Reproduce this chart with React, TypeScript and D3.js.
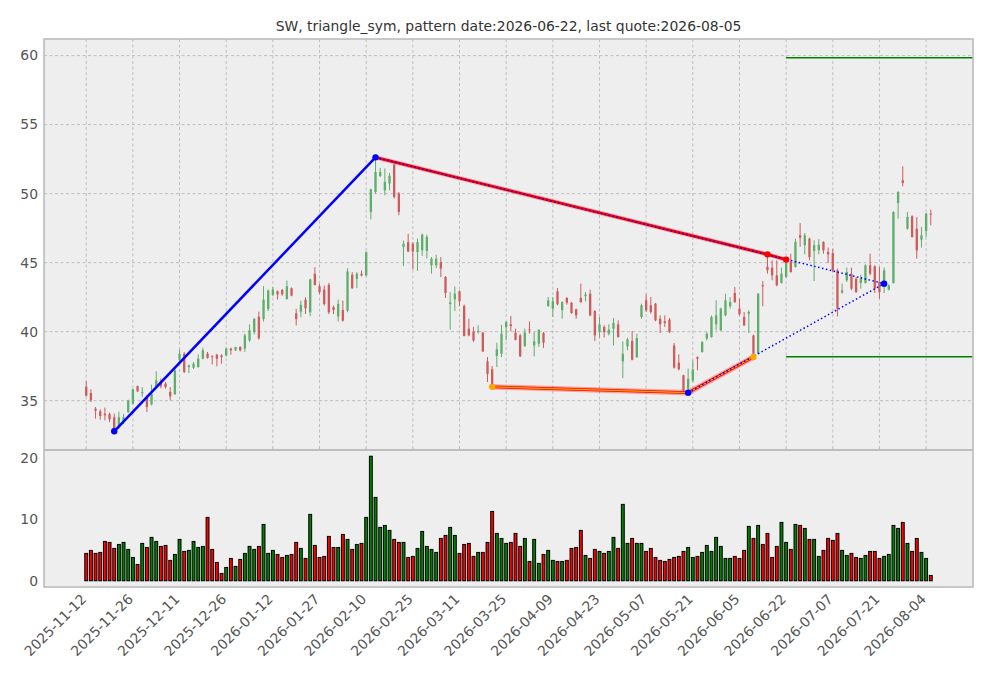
import * as d3 from "d3";

// bars are drawn at integer positions 0..181, one label every 10 bars
const tickLabels = [
  "2025-11-12", "2025-11-26", "2025-12-11", "2025-12-26", "2026-01-12",
  "2026-01-27", "2026-02-10", "2026-02-25", "2026-03-11", "2026-03-25",
  "2026-04-09", "2026-04-23", "2026-05-07", "2026-05-21", "2026-06-05",
  "2026-06-22", "2026-07-07", "2026-07-21", "2026-08-04",
];

const opens = [
  36.0, 35.56, 34.42, 34.23, 34.06, 34.03, 33.8, 33.1, 33.45, 34.18,
  34.78, 36.06, 35.56, 35.27, 34.73, 36.06, 36.35, 36.23, 35.63, 35.46,
  37.97, 38.4, 37.44, 37.39, 37.44, 38.04, 38.4, 38.21, 38.33, 38.28,
  38.28, 38.77, 38.65, 38.89, 38.77, 39.37, 39.97, 41.09, 40.92, 41.65,
  42.66, 42.93, 43.02, 42.37, 43.15, 41.33, 41.45, 42.32, 41.4, 44.19,
  43.29, 43.05, 43.39, 41.77, 41.11, 41.57, 41.52, 44.12, 43.83, 44.19,
  44.07, 48.67, 50.12, 51.28, 50.24, 50.73, 52.1, 50.0, 46.13, 46.49,
  46.37, 45.77, 45.9, 45.85, 44.8, 44.81, 45.05, 43.96, 42.0, 42.34,
  42.92, 41.86, 40.22, 40.02, 39.97, 39.93, 37.85, 37.27, 38.24, 38.4,
  40.34, 40.53, 39.93, 39.73, 38.96, 40.17, 39.01, 39.13, 39.9, 41.86,
  41.67, 42.92, 41.55, 42.44, 42.1, 41.62, 42.44, 42.58, 42.75, 41.5,
  39.97, 40.34, 39.85, 40.22, 40.53, 37.85, 38.94, 39.32, 38.16, 41.06,
  42.27, 41.91, 42.03, 40.94, 40.75, 40.87, 39.0, 37.75, 36.84, 35.87,
  36.47, 38.16, 38.53, 39.49, 39.61, 40.53, 40.1, 41.18, 41.84, 42.8,
  41.67, 41.06, 41.3, 39.73, 38.4, 43.37, 44.7, 44.64, 44.08, 43.53,
  43.96, 45.05, 44.69, 46.98, 46.26, 46.74, 45.85, 45.9, 46.5, 45.77,
  45.7, 44.44, 42.83, 43.72, 44.2, 43.84, 43.53, 43.53, 44.81, 44.73,
  43.6, 43.24, 43.04, 43.53, 49.32, 50.97, 47.46, 48.36, 47.46, 46.67,
  47.29, 48.55,
];
const highs = [
  36.4, 35.82, 34.54, 34.37, 34.5, 34.13, 34.06, 34.2, 34.05, 35.07,
  35.87, 36.1, 35.99, 35.39, 36.16, 37.13, 36.6, 36.35, 35.99, 37.25,
  38.7, 38.53, 37.63, 37.8, 38.36, 38.84, 38.53, 38.29, 38.4, 38.36,
  38.84, 38.84, 38.9, 38.94, 39.85, 40.53, 41.0, 41.45, 43.3, 43.05,
  43.22, 42.98, 43.1, 43.7, 43.2, 41.65, 42.25, 42.5, 43.83, 44.67,
  43.46, 43.34, 43.53, 41.89, 42.32, 42.25, 44.6, 44.31, 44.31, 44.43,
  45.81, 50.36, 52.63, 51.86, 51.82, 51.5, 52.18, 50.12, 46.6, 47.09,
  46.49, 46.74, 47.1, 47.03, 45.41, 45.58, 45.41, 44.03, 42.87, 43.28,
  43.0, 41.96, 40.94, 40.34, 40.46, 39.98, 38.16, 37.51, 39.2, 40.5,
  40.75, 41.14, 40.22, 39.85, 40.22, 40.75, 39.98, 40.17, 39.98, 42.51,
  42.51, 43.16, 42.2, 42.51, 42.15, 41.67, 43.48, 42.87, 43.04, 41.55,
  41.06, 40.46, 40.53, 40.99, 40.82, 39.3, 39.56, 40.05, 39.85, 42.03,
  42.71, 42.51, 42.08, 41.18, 41.18, 40.99, 39.18, 38.36, 36.88, 37.32,
  37.92, 38.21, 39.32, 39.97, 41.18, 42.27, 41.74, 42.75, 42.51, 43.24,
  42.39, 41.43, 41.55, 39.78, 42.8, 43.67, 45.6, 45.17, 45.17, 44.64,
  45.22, 45.65, 46.74, 47.87, 47.15, 46.81, 46.62, 46.7, 46.55, 46.09,
  46.0, 44.57, 43.48, 44.64, 44.64, 43.96, 44.13, 44.88, 45.65, 44.81,
  44.69, 44.64, 43.43, 48.72, 50.17, 51.98, 48.67, 48.43, 48.31, 47.58,
  48.6, 48.84,
];
const lows = [
  35.3, 34.9, 33.7, 33.62, 33.57, 33.45, 32.78, 32.95, 33.3, 34.1,
  34.73, 35.63, 35.27, 34.18, 34.66, 35.99, 35.9, 35.87, 35.02, 35.43,
  37.8, 37.0, 37.0, 37.3, 37.39, 38.0, 38.04, 37.63, 37.49, 37.68,
  38.2, 38.33, 38.6, 38.57, 38.53, 39.25, 39.8, 39.42, 40.73, 41.5,
  42.57, 42.32, 42.6, 42.32, 42.56, 40.44, 41.04, 41.28, 41.11, 43.34,
  42.74, 41.89, 41.28, 41.28, 40.73, 40.73, 41.4, 43.1, 43.15, 44.0,
  44.02, 48.14, 50.0, 51.2, 49.88, 50.24, 49.64, 48.43, 44.75, 45.76,
  44.5, 44.4, 45.48, 45.3, 44.2, 44.6, 43.96, 42.44, 40.14, 41.5,
  41.84, 39.66, 39.66, 39.25, 39.85, 38.53, 36.35, 36.0, 37.44, 38.16,
  39.37, 40.02, 39.37, 38.16, 38.89, 39.85, 38.21, 38.89, 38.82, 41.79,
  41.06, 41.91, 40.94, 41.96, 41.3, 40.94, 42.08, 42.2, 41.11, 39.32,
  39.57, 39.57, 39.73, 39.0, 39.57, 36.64, 38.65, 37.92, 38.09, 40.94,
  41.43, 41.3, 40.75, 39.9, 40.34, 39.9, 37.32, 37.2, 35.63, 35.58,
  36.35, 37.2, 38.48, 39.37, 39.56, 40.1, 40.05, 41.11, 41.67, 42.08,
  41.18, 40.41, 39.9, 38.16, 38.36, 41.84, 44.2, 43.72, 43.29, 43.48,
  43.91, 44.27, 44.64, 46.14, 45.6, 45.17, 43.67, 45.6, 45.65, 44.98,
  44.32, 41.11, 42.75, 43.6, 43.0, 42.8, 43.12, 43.48, 44.08, 42.8,
  42.39, 42.8, 42.99, 43.48, 48.19, 50.53, 47.39, 46.81, 45.29, 46.09,
  46.86, 47.7,
];
const closes = [
  35.36, 35.02, 34.28, 33.89, 33.94, 33.65, 32.97, 33.8, 33.8, 35.02,
  35.82, 35.68, 35.63, 34.54, 35.51, 36.47, 36.04, 35.99, 35.31, 37.2,
  38.4, 37.08, 37.54, 37.68, 38.04, 38.65, 38.1, 38.16, 38.04, 38.16,
  38.77, 38.65, 38.89, 38.65, 39.73, 40.1, 40.92, 39.52, 42.32, 42.98,
  43.05, 42.69, 42.71, 43.29, 42.61, 40.92, 41.94, 41.7, 43.78, 43.39,
  42.86, 42.0, 41.4, 41.57, 42.0, 40.8, 44.36, 43.15, 44.19, 44.07,
  45.76, 50.31, 51.57, 51.57, 50.85, 51.3, 49.76, 48.67, 46.37, 45.81,
  45.81, 46.5, 47.03, 46.86, 45.29, 45.29, 44.57, 42.8, 42.12, 42.75,
  42.2, 39.69, 39.73, 39.37, 40.05, 38.57, 36.93, 36.2, 38.72, 39.85,
  40.7, 40.41, 39.4, 38.21, 39.93, 40.1, 39.3, 40.14, 39.2, 42.27,
  42.2, 41.98, 42.15, 42.1, 41.35, 41.18, 42.15, 42.7, 41.18, 39.73,
  40.53, 39.97, 40.14, 40.63, 39.61, 38.4, 39.44, 37.97, 39.54, 41.91,
  41.55, 41.43, 40.82, 40.53, 40.63, 39.97, 37.39, 37.27, 35.75, 36.59,
  37.25, 38.04, 39.25, 39.85, 41.06, 41.18, 41.67, 42.27, 42.15, 42.15,
  41.26, 40.46, 41.43, 38.4, 42.75, 43.29, 44.45, 44.08, 43.36, 44.2,
  45.17, 44.32, 46.5, 46.8, 46.98, 45.41, 46.26, 46.3, 45.9, 45.6,
  44.44, 41.67, 43.0, 44.32, 43.12, 42.87, 43.84, 44.81, 44.2, 43.12,
  42.87, 44.44, 43.36, 48.67, 50.12, 50.77, 48.31, 46.86, 45.89, 46.98,
  48.55, 48.48,
];
const volumes = [
  4.46, 4.95, 4.46, 4.62, 6.41, 6.25, 5.27, 5.92, 6.25, 5.11,
  3.8, 2.66, 6.09, 5.43, 7.07, 6.41, 5.6, 5.76, 3.32, 4.29,
  6.74, 4.78, 4.95, 6.41, 5.43, 5.6, 10.33, 5.11, 2.99, 1.2,
  2.17, 3.64, 2.34, 3.48, 4.46, 5.6, 5.11, 5.6, 9.18, 4.46,
  4.95, 4.29, 3.8, 4.13, 4.29, 6.25, 5.27, 3.64, 10.82, 5.76,
  3.8, 3.97, 7.23, 5.43, 5.43, 7.55, 6.74, 5.11, 5.92, 6.09,
  10.33, 20.3, 13.59, 8.7, 9.02, 8.21, 6.74, 6.25, 6.25, 3.8,
  3.97, 5.27, 8.04, 5.6, 5.11, 4.62, 6.9, 7.39, 8.7, 7.39,
  4.46, 5.92, 6.09, 3.97, 4.62, 4.62, 6.25, 11.3, 7.72, 6.9,
  6.09, 6.25, 7.72, 5.6, 6.9, 3.15, 6.74, 2.83, 4.29, 4.95,
  3.32, 3.15, 3.15, 3.32, 5.27, 5.43, 8.21, 4.13, 3.64, 5.11,
  4.78, 4.46, 4.78, 7.07, 5.27, 12.45, 6.09, 6.9, 6.09, 6.09,
  4.78, 5.27, 3.8, 3.32, 3.15, 3.48, 3.8, 3.97, 4.78, 5.43,
  3.8, 3.97, 4.62, 5.76, 4.78, 7.07, 5.6, 3.64, 3.64, 3.97,
  3.64, 4.95, 8.86, 6.9, 9.02, 5.92, 7.72, 3.8, 5.6, 9.51,
  6.25, 5.11, 9.18, 9.02, 8.53, 6.74, 6.74, 3.97, 4.95, 6.9,
  6.58, 7.72, 4.95, 4.13, 4.46, 3.8, 3.64, 4.13, 4.78, 4.78,
  3.64, 3.97, 4.29, 9.02, 8.53, 9.51, 6.09, 4.78, 6.9, 4.62,
  3.64, 0.87,
];

// pattern overlay
const zigzagIdx = [6, 62];
const zigzagVal = [32.78, 52.63];
const upperIdx = [62, 146, 150];
const upperVal = [52.63, 45.6, 45.22];
const lowerIdx = [87, 129, 143];
const lowerVal = [36.0, 35.58, 38.16];
const apexIdx = 171;
const apexVal = 43.48;
const targetLevels = [59.85, 38.19];
const patternIdx = 150;

const W = 993;
const H = 678;
const left = 44;
const right = 973;
const top = 39;
const mid = 450;
const bottom = 587;
const font = "DejaVu Sans, sans-serif";
const upColor = "#5fae6b";
const downColor = "#cf5c5c";

export default function App() {
  const n = closes.length;
  const x = d3.scaleLinear().domain([-(n - 1) * 0.05, (n - 1) * 1.05]).range([left, right]);
  const lo = Math.min(d3.min(lows)!, ...targetLevels);
  const hi = Math.max(d3.max(highs)!, ...targetLevels);
  const pad = (hi - lo) * 0.05;
  const y = d3.scaleLinear().domain([lo - pad, hi + pad]).range([mid, top]);
  const vMax = d3.max(volumes)!;
  const yv = d3.scaleLinear().domain([-vMax * 0.05, vMax * 1.05]).range([bottom, mid]);

  const line = d3.line<[number, number]>().x((d) => x(d[0])).y((d) => y(d[1]));
  const zip = (a: number[], b: number[]) => a.map((v, i) => [v, b[i]] as [number, number]);
  const zigzag = line(zip(zigzagIdx, zigzagVal))!;
  const upper = line(zip(upperIdx, upperVal))!;
  const lower = line(zip(lowerIdx, lowerVal))!;
  const upperTrend = line([[upperIdx[0], upperVal[0]], [apexIdx, apexVal]])!;
  const lowerTrend = line([[lowerIdx[1], lowerVal[1]], [apexIdx, apexVal]])!;

  const tickIdx = tickLabels.map((_, i) => i * 10);
  const priceTicks = [35, 40, 45, 50, 55, 60];
  const volTicks = [0, 10, 20];
  const bodyW = x(0.5) - x(0);
  const barW = x(0.62) - x(0);

  return (
    <svg width={W} height={H} style={{ position: "absolute", left: 0, top: 0, background: "#fff" }} fontFamily={font}>
      <defs>
        <clipPath id="pc"><rect x={left} y={top} width={right - left} height={mid - top} /></clipPath>
        <clipPath id="vc"><rect x={left} y={mid} width={right - left} height={bottom - mid} /></clipPath>
      </defs>
      <text x={(left + right) / 2} y={31} textAnchor="middle" fontSize={13.9} fill="#333">
        SW, triangle_sym, pattern date:2026-06-22, last quote:2026-08-05
      </text>

      <rect x={left} y={top} width={right - left} height={mid - top} fill="#eeeeee" />
      <rect x={left} y={mid} width={right - left} height={bottom - mid} fill="#eeeeee" />

      {/* grid, price panel only */}
      <g stroke="#b2b2b2" strokeWidth={0.8} strokeDasharray="3,2.5">
        {tickIdx.map((t) => (
          <line key={"gx" + t} x1={x(t)} x2={x(t)} y1={top} y2={mid} />
        ))}
        {priceTicks.map((t) => (
          <line key={"gp" + t} x1={left} x2={right} y1={y(t)} y2={y(t)} />
        ))}
      </g>

      {/* candles */}
      <g clipPath="url(#pc)">
        {closes.map((c, i) => {
          const col = c >= opens[i] ? upColor : downColor;
          const yt = y(Math.max(opens[i], c));
          const yb = y(Math.min(opens[i], c));
          return (
            <g key={i}>
              <line x1={x(i)} x2={x(i)} y1={y(highs[i])} y2={y(lows[i])} stroke={col} strokeWidth={1} />
              <rect x={x(i) - bodyW / 2} y={yt} width={bodyW} height={Math.max(yb - yt, 0.8)} fill={col} />
            </g>
          );
        })}

        {/* targets */}
        {targetLevels.map((v) => (
          <line key={v} x1={x(patternIdx)} x2={right} y1={y(v)} y2={y(v)} stroke="green" strokeWidth={1.5} />
        ))}

        {/* pattern lines */}
        <path d={zigzag} fill="none" stroke="blue" strokeWidth={2.5} />
        <path d={upper} fill="none" stroke="red" strokeOpacity={0.25} strokeWidth={4.5} />
        <path d={upper} fill="none" stroke="red" strokeWidth={2.8} />
        <path d={lower} fill="none" stroke="red" strokeOpacity={0.3} strokeWidth={5.5} />
        <path d={lower} fill="none" stroke="red" strokeWidth={2.8} />
        <path d={lower} fill="none" stroke="orange" strokeWidth={1.2} />
        <path d={upperTrend} fill="none" stroke="blue" strokeWidth={1.5} strokeDasharray="1.5,2.5" />
        <path d={lowerTrend} fill="none" stroke="blue" strokeWidth={1.5} strokeDasharray="1.5,2.5" />

        {zigzagIdx.map((t, i) => (
          <circle key={"z" + t} cx={x(t)} cy={y(zigzagVal[i])} r={3.2} fill="blue" />
        ))}
        {upperIdx.slice(1).map((t, i) => (
          <circle key={"u" + t} cx={x(t)} cy={y(upperVal[i + 1])} r={3.2} fill="red" />
        ))}
        {lowerIdx.map((t, i) => (
          <circle key={"l" + t} cx={x(t)} cy={y(lowerVal[i])} r={3.2} fill={i === 1 ? "blue" : "orange"} />
        ))}
        <circle cx={x(apexIdx)} cy={y(apexVal)} r={3.2} fill="blue" />
      </g>

      {/* volume */}
      <g clipPath="url(#vc)">
        {volumes.map((v, i) => (
          <rect
            key={i}
            x={x(i) - barW / 2}
            y={yv(v)}
            width={barW}
            height={yv(0) - yv(v)}
            fill={closes[i] >= opens[i] ? "green" : "red"}
            stroke="black"
            strokeWidth={1}
          />
        ))}
      </g>

      {/* frames */}
      <rect x={left} y={top} width={right - left} height={mid - top} fill="none" stroke="#bcbcbc" strokeWidth={1.6} />
      <rect x={left} y={mid} width={right - left} height={bottom - mid} fill="none" stroke="#bcbcbc" strokeWidth={1.6} />

      {/* tick labels */}
      <g fontSize={13.9} fill="#555">
        {priceTicks.map((t) => (
          <text key={"p" + t} x={38} y={y(t)} dy="0.35em" textAnchor="end">{t}</text>
        ))}
        {volTicks.map((t) => (
          <text key={"v" + t} x={38} y={yv(t)} dy="0.35em" textAnchor="end">{t}</text>
        ))}
        {tickLabels.map((lab, i) => (
          <text
            key={lab}
            transform={`translate(${x(tickIdx[i]) + 1},${600}) rotate(-45)`}
            textAnchor="end"
          >
            {lab}
          </text>
        ))}
      </g>
    </svg>
  );
}
